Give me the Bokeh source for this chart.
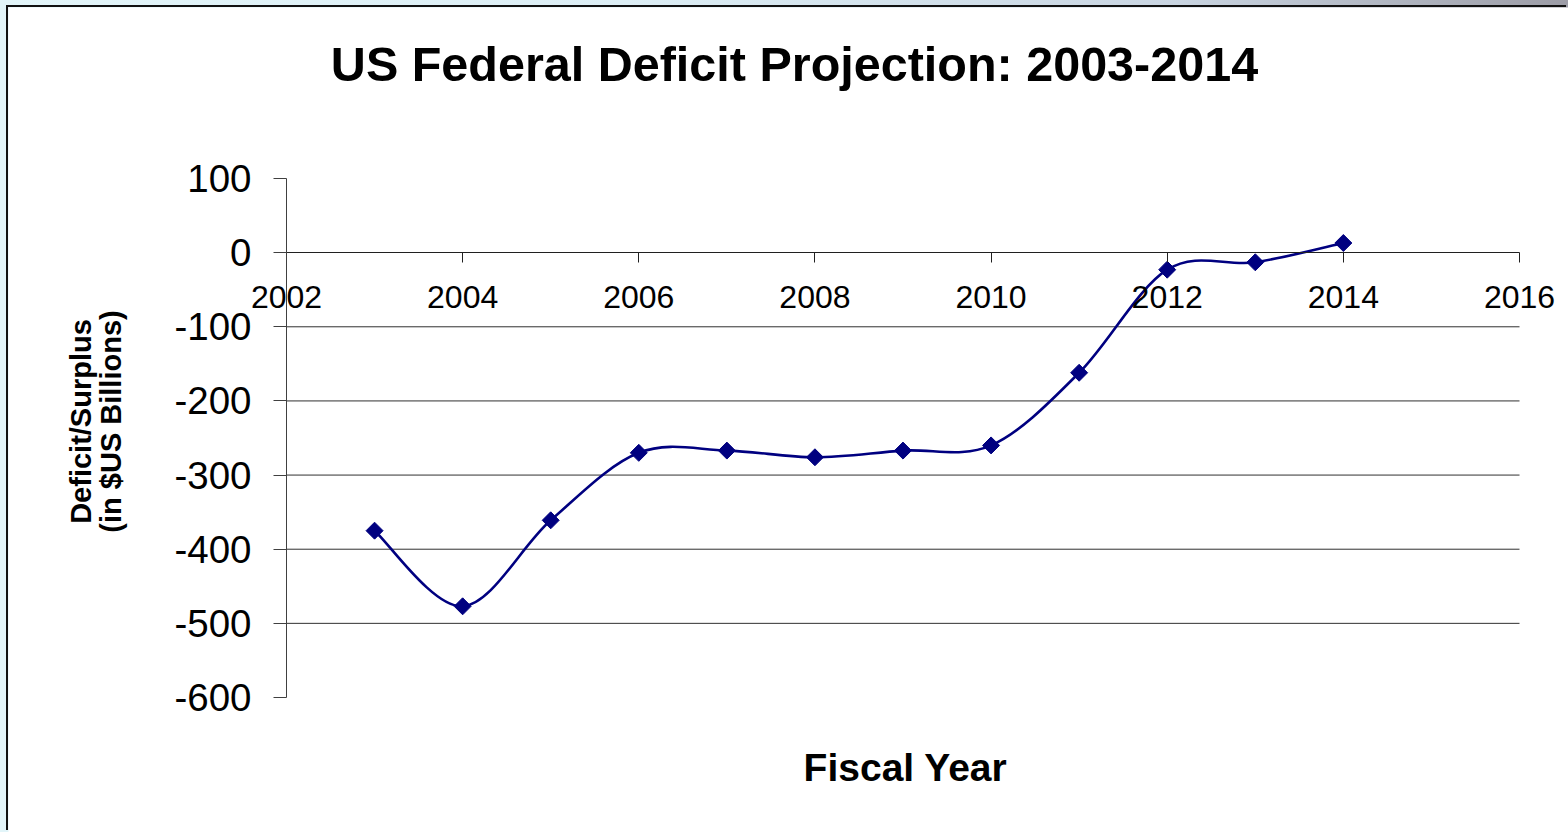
import math
from bokeh.plotting import figure
from bokeh.models import Label, FixedTicker, ColumnDataSource, Range1d, CustomJSTickFormatter
from bokeh.layouts import column
from bokeh.embed import file_html
from bokeh.resources import INLINE

years = [2003, 2004, 2005, 2006, 2007, 2008, 2009, 2010, 2011, 2012, 2013, 2014]
deficit = [-375, -477, -361, -270, -267, -276, -267, -260, -162, -23, -13, 13]
x_ticks = [2002, 2004, 2006, 2008, 2010, 2012, 2014, 2016]
y_ticks = [-600, -500, -400, -300, -200, -100, 0, 100]
grid_ticks = [-500, -400, -300, -200, -100]

title_text = "US Federal Deficit Projection: 2003-2014"
x_title = "Fiscal Year"
y_title_1 = "Deficit/Surplus"
y_title_2 = "(in $US Billions)"

FONT = "Liberation Sans"
NAVY = "#000080"

# layout (pixels within the figure)
W, H = 1560, 825
PL, PR, PT, PB = 278, 1511, 171, 690   # plot area edges
x_lo, x_hi = x_ticks[0], x_ticks[-1]
y_lo, y_hi = y_ticks[0], y_ticks[-1]
kx = (PR - PL) / (x_hi - x_lo)
ky = (PB - PT) / (y_hi - y_lo)
xr = Range1d(x_lo - PL / kx, x_hi + (W - PR) / kx)
yr = Range1d(y_lo - (H - PB) / ky, y_hi + PT / ky)

p = figure(width=W, height=H, x_range=xr, y_range=yr,
           output_backend="svg", toolbar_location=None,
           min_border=0)
p.background_fill_color = "white"
p.border_fill_color = "white"
p.outline_line_color = None
p.xgrid.grid_line_color = None
p.ygrid.grid_line_color = None

# horizontal gridlines across the plot area only
p.segment(x0=[x_lo] * len(grid_ticks), x1=[x_hi] * len(grid_ticks),
          y0=grid_ticks, y1=grid_ticks, line_color="#303030", line_width=1)

# x axis crossing at zero
xa = p.xaxis[0]
xa.fixed_location = 0
xa.bounds = (x_lo, x_hi)
xa.ticker = FixedTicker(ticks=x_ticks)
xa.major_tick_out = 10
xa.major_tick_in = 0
xa.minor_tick_line_color = None
xa.axis_line_color = "#202020"
xa.major_tick_line_color = "#202020"
xa.major_label_text_font = FONT
xa.major_label_text_font_size = "32px"
xa.major_label_text_color = "black"
xa.major_label_standoff = 23

ya = p.yaxis[0]
ya.fixed_location = x_lo
ya.bounds = (y_lo, y_hi)
ya.ticker = FixedTicker(ticks=y_ticks)
ya.formatter = CustomJSTickFormatter(code="return tick.toFixed(0);")
ya.major_tick_out = 13
ya.major_tick_in = 0
ya.minor_tick_line_color = None
ya.axis_line_color = "#404040"
ya.major_tick_line_color = "#404040"
ya.major_label_text_font = FONT
ya.major_label_text_font_size = "38.5px"
ya.major_label_text_color = "black"
ya.major_label_standoff = 22

# smoothed line (Catmull-Rom style Bezier segments, as a spreadsheet smoothed line)
n = len(years)
x0s, y0s, x1s, y1s, cx0s, cy0s, cx1s, cy1s = [], [], [], [], [], [], [], []
for i in range(n - 1):
    xa_, ya_ = years[i], deficit[i]
    xb_, yb_ = years[i + 1], deficit[i + 1]
    xp, yp = (years[i - 1], deficit[i - 1]) if i > 0 else (xa_, ya_)
    xn, yn = (years[i + 2], deficit[i + 2]) if i + 2 < n else (xb_, yb_)
    x0s.append(xa_); y0s.append(ya_)
    x1s.append(xb_); y1s.append(yb_)
    cx0s.append(xa_ + (xb_ - xp) / 6.0); cy0s.append(ya_ + (yb_ - yp) / 6.0)
    cx1s.append(xb_ - (xn - xa_) / 6.0); cy1s.append(yb_ - (yn - ya_) / 6.0)

bsrc = ColumnDataSource(dict(x0=x0s, y0=y0s, x1=x1s, y1=y1s,
                             cx0=cx0s, cy0=cy0s, cx1=cx1s, cy1=cy1s))
p.bezier(x0="x0", y0="y0", x1="x1", y1="y1", cx0="cx0", cy0="cy0",
         cx1="cx1", cy1="cy1", source=bsrc, line_color=NAVY, line_width=2.6)

p.scatter(years, deficit, marker="square", size=12, angle=math.pi / 4,
          fill_color=NAVY, line_color=NAVY)

p.add_layout(Label(x=786, y=H - 56, x_units="screen", y_units="screen", text=title_text,
                   text_font=FONT, text_font_size="48.5px", text_font_style="bold",
                   text_align="center", text_baseline="alphabetic", text_color="black"))
p.add_layout(Label(x=897, y=H - 760, x_units="screen", y_units="screen", text=x_title,
                   text_font=FONT, text_font_size="39px", text_font_style="bold",
                   text_align="center", text_baseline="alphabetic", text_color="black"))
p.add_layout(Label(x=72, y=H - 414, x_units="screen", y_units="screen", text=y_title_1,
                   angle=math.pi / 2, text_font=FONT, text_font_size="29px",
                   text_font_style="bold", text_align="center",
                   text_baseline="alphabetic", text_color="black"))
p.add_layout(Label(x=102, y=H - 414, x_units="screen", y_units="screen", text=y_title_2,
                   angle=math.pi / 2, text_font=FONT, text_font_size="29px",
                   text_font_style="bold", text_align="center",
                   text_baseline="alphabetic", text_color="black"))

p.styles = {"box-shadow": "-2px -2px 0 0 #111111"}

layout = column(p, width=1568, height=832,
                styles={"background": "linear-gradient(to right, #e2f5f9 0%, #dceef5 40%, #c9d5e2 75%, #9c9ca6 100%)",
                        "padding-top": "7px", "padding-left": "8px", "box-sizing": "border-box"})

open("out.html", "w").write(file_html(layout, INLINE))
